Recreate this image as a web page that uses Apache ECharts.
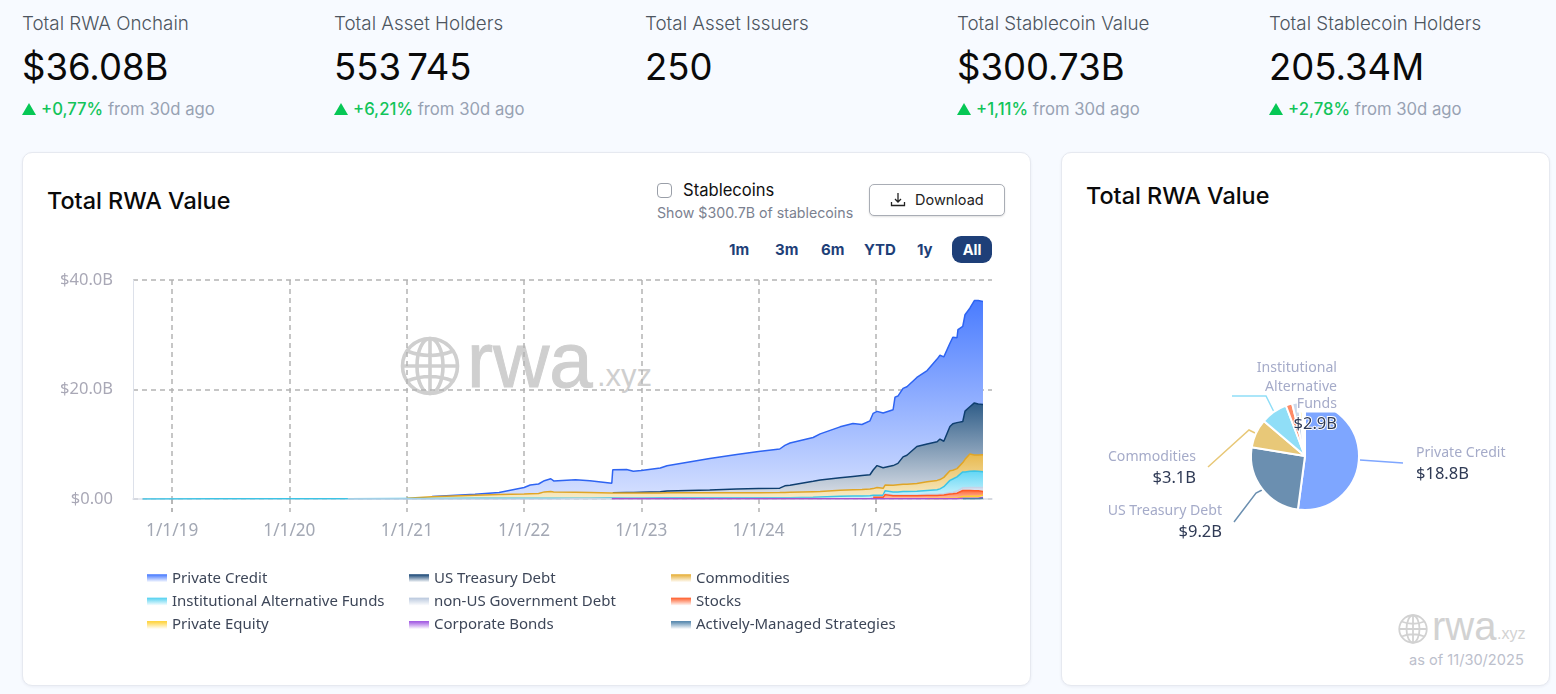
<!DOCTYPE html>
<html><head><meta charset="utf-8"><title>Total RWA Value</title>
<script src="https://cdn.jsdelivr.net/npm/echarts@6/dist/echarts.min.js"></script>
<style>
html,body{margin:0;padding:0;width:1556px;height:694px;overflow:hidden;background:#f7faff;font-family:Inter,sans-serif}
.a{position:absolute;white-space:nowrap}
.card{position:absolute;background:#fff;border:1px solid #e6e9f0;border-radius:10px;box-sizing:border-box;box-shadow:0 1px 3px rgba(30,40,80,.06)}
.k1{font-size:18.8px;color:#4d5560;top:13px;line-height:22px;font-weight:300}
.k2{font-size:36.5px;color:#0a0a0a;top:45px;line-height:44px;font-weight:400;word-spacing:-4px}
.k3{font-size:16.7px;top:98px;line-height:22px;color:#98a2b3}
.k3 b{color:#12c45a;font-weight:500}
.tri{display:inline-block;width:0;height:0;border-left:7px solid transparent;border-right:7px solid transparent;border-bottom:12px solid #06c755;margin-right:5px}
.r{font-size:15px;font-weight:700;color:#1e3f78;top:240px;line-height:20px}
#chart{position:absolute;left:0;top:0;width:1556px;height:694px}
</style></head><body>
<div class="a k1" style="left:22px">Total RWA Onchain</div><div class="a k2" style="left:22px">$36.08B</div>
<div class="a k3" style="left:22px"><span class="tri"></span><b>+0,77%</b> from 30d ago</div>
<div class="a k1" style="left:334px">Total Asset Holders</div><div class="a k2" style="left:334px">553 745</div>
<div class="a k3" style="left:334px"><span class="tri"></span><b>+6,21%</b> from 30d ago</div>
<div class="a k1" style="left:645px">Total Asset Issuers</div><div class="a k2" style="left:645px">250</div>
<div class="a k1" style="left:957px">Total Stablecoin Value</div><div class="a k2" style="left:957px">$300.73B</div>
<div class="a k3" style="left:957px"><span class="tri"></span><b>+1,11%</b> from 30d ago</div>
<div class="a k1" style="left:1269px">Total Stablecoin Holders</div><div class="a k2" style="left:1269px">205.34M</div>
<div class="a k3" style="left:1269px"><span class="tri"></span><b>+2,78%</b> from 30d ago</div>

<div class="card" style="left:22px;top:152px;width:1009px;height:534px"></div>
<div class="card" style="left:1061px;top:152px;width:489px;height:534px"></div>
<div class="a" style="left:47px;top:186px;font-size:23.4px;line-height:30px;font-weight:500;color:#0a0a0a">Total RWA Value</div>
<div class="a" style="left:1086px;top:181px;font-size:23.4px;line-height:30px;font-weight:500;color:#0a0a0a">Total RWA Value</div>

<div class="a" style="left:657px;top:183px;width:13px;height:13px;border:1px solid #9a9fa8;border-radius:4px"></div>
<div class="a" style="left:683px;top:180px;font-size:16.6px;line-height:20px;color:#111">Stablecoins</div>
<div class="a" style="left:657px;top:203px;font-size:14.2px;line-height:20px;color:#7b8190">Show $300.7B of stablecoins</div>
<div class="a" style="left:869px;top:184px;width:134px;height:30px;border:1px solid #a9adb5;border-radius:5px;background:#fff;box-shadow:0 1px 2px rgba(0,0,0,.12)"></div>
<svg class="a" style="left:890px;top:192px" width="16" height="16" viewBox="0 0 16 16" fill="none" stroke="#222" stroke-width="1.3"><path d="M8 1v9M5 7l3 3 3-3M1.5 10v3.5h13V10"/></svg>
<div class="a" style="left:915px;top:190px;font-size:14.5px;line-height:20px;color:#222">Download</div>
<div class="a r" style="left:729px">1m</div><div class="a r" style="left:775px">3m</div><div class="a r" style="left:821px">6m</div>
<div class="a r" style="left:864px">YTD</div><div class="a r" style="left:917px">1y</div>
<div class="a" style="left:952px;top:236px;width:40px;height:27px;border-radius:9px;background:#1e3f78;color:#fff;font-size:14.5px;font-weight:700;line-height:27px;text-align:center">All</div>

<svg class="a" style="left:400px;top:336px" width="60" height="60" viewBox="0 0 60 60" fill="none" stroke="#cfcfcf" stroke-width="3.6">
<circle cx="30" cy="30" r="27.5"/><ellipse cx="30" cy="30" rx="13" ry="27.5"/><path d="M30 2.5v55M2.5 30h55M7 15q23 9 46 0M7 45q23-9 46 0"/></svg>
<div class="a" style="left:467px;top:318px;font-family:'Liberation Sans';font-size:78px;line-height:84px;color:#cfcfcf;-webkit-text-stroke:1px #cfcfcf">rwa</div>
<div class="a" style="left:597px;top:358px;font-family:'Liberation Sans';font-size:31px;line-height:36px;color:#cfcfcf">.xyz</div>

<svg class="a" style="left:1398px;top:614px" width="30" height="30" viewBox="0 0 60 60" fill="none" stroke="#d2d2d2" stroke-width="3.6">
<circle cx="30" cy="30" r="27.5"/><ellipse cx="30" cy="30" rx="13" ry="27.5"/><path d="M30 2.5v55M2.5 30h55M7 15q23 9 46 0M7 45q23-9 46 0"/></svg>
<div class="a" style="left:1432px;top:604px;font-family:'Liberation Sans';font-size:40px;line-height:44px;color:#d2d2d2">rwa</div>
<div class="a" style="left:1497px;top:624px;font-family:'Liberation Sans';font-size:16px;line-height:20px;color:#d2d2d2">.xyz</div>
<div class="a" style="left:1409px;top:650px;font-size:14.6px;line-height:20px;color:#bcc0cc">as of 11/30/2025</div>

<div id="chart"></div>
<script>
const dates=["2018-10-01","2019-06-01","2020-01-01","2020-07-01","2021-01-01","2021-03-20","2021-08-01","2021-10-15","2022-01-01","2022-01-20","2022-02-15","2022-03-05","2022-03-25","2022-04-03","2022-06-10","2022-07-25","2022-10-01","2022-10-04","2022-11-16","2022-12-07","2023-01-01","2023-03-01","2023-03-22","2023-08-02","2023-10-25","2024-01-01","2024-03-07","2024-03-23","2024-04-08","2024-06-19","2024-07-11","2024-09-11","2024-10-21","2024-11-18","2024-12-13","2024-12-23","2025-01-04","2025-01-23","2025-01-29","2025-02-23","2025-03-01","2025-03-10","2025-03-26","2025-04-07","2025-05-08","2025-06-09","2025-07-10","2025-07-19","2025-07-31","2025-08-19","2025-08-28","2025-09-10","2025-09-13","2025-09-28","2025-10-05","2025-10-20","2025-11-03","2025-11-15","2025-11-30"];
const privateCredit=[null,null,null,null,null,.05,.15,.40,1.2,1.6,1.74,2.05,2.35,2.0,2.25,2.15,1.8,4.2,4.2,3.9,3.95,4.35,4.6,5.75,6.3,6.75,7.15,7.4,7.7,8.0,8.45,9.3,9.65,9.3,9.85,10.35,9.9,10.0,9.95,10.2,12.2,12.3,12.5,12.5,12.6,13.4,15.1,15.3,15.4,15.2,15.8,15.5,16.9,17.4,17.6,18.0,18.7,18.9,18.8];
const usTreasury=[null,null,null,null,null,null,null,null,null,null,null,null,null,null,null,null,null,.05,.1,.1,.15,.2,.35,.5,.65,.75,.8,1.2,1.3,1.9,2.1,2.3,2.45,2.55,2.6,3.4,4.0,3.75,3.25,3.6,3.9,3.9,5.0,5.3,6.75,6.9,7.05,7.4,6.6,8.1,8.5,8.4,8.5,7.5,8.8,8.65,9.5,9.3,9.2];
const commodities=[null,null,null,null,.05,.30,.58,.68,.78,.83,.88,1.18,1.23,1.18,1.1,1.05,.9,.9,.88,.88,.9,.9,.92,.95,.95,.95,.95,.95,.98,1.0,.97,1.1,1.15,1.2,1.25,1.2,1.4,1.25,1.05,1.2,1.2,1.3,1.35,1.35,1.45,1.6,1.7,1.7,1.7,1.75,1.6,1.5,1.5,1.7,2.3,3.15,2.95,3.0,3.1];
const institutionalFunds=[.02,.03,.04,.05,.08,.08,.10,.10,.10,.10,.10,.10,.10,.10,.12,.12,.12,.12,.12,.12,.12,.13,.13,.13,.13,.13,.15,.17,.17,.25,.3,.4,.45,.45,.5,.3,.3,.3,.55,.55,.55,.55,.6,.6,.65,.7,.85,.95,1.3,2.2,2.4,2.6,2.6,2.9,2.9,2.95,3.0,2.95,2.9];
const nonUsDebt=[null,null,null,.01,.02,.02,.02,.02,.02,.02,.02,.02,.02,.02,.03,.03,.03,.03,.05,.05,.05,.05,.05,.05,.05,.05,.05,.05,.05,.05,.05,.05,.05,.07,.05,.1,.1,.1,.15,.15,.15,.15,.15,.15,.15,.2,.2,.2,.2,.3,.3,.4,.4,.5,.5,.55,.6,.6,.7];
const stocks=[null,null,null,null,null,null,null,null,null,null,null,null,null,null,null,null,null,null,null,null,null,null,null,null,null,null,null,null,null,null,null,null,null,null,null,.25,.25,.25,.75,.55,.55,.55,.55,.55,.55,.55,.55,.6,.65,.75,.8,.9,.9,1.1,1.1,1.05,1.0,1.0,.7];
const privateEquity=[null,null,null,null,null,null,null,null,null,null,null,null,null,null,null,null,null,null,null,null,null,null,null,null,null,null,null,null,null,null,null,null,null,null,null,null,null,null,null,null,null,null,null,null,null,.05,.05,.05,.05,.1,.1,.1,.1,.3,.3,.35,.35,.35,.35];
const corporateBonds=[null,null,null,null,null,null,null,null,null,null,null,null,null,null,null,null,.03,.03,.03,.03,.03,.03,.03,.03,.03,.03,.03,.03,.03,.03,.03,.03,.03,.03,.03,.05,.05,.05,.05,.05,.05,.05,.05,.05,.05,.05,.05,.05,.05,.05,.05,.05,.05,.1,.1,.1,.1,.1,.2];
const activelyManaged=[null,null,null,null,null,null,null,null,null,null,null,null,null,null,null,null,null,null,null,null,null,null,null,null,null,null,null,null,null,null,null,null,null,null,null,null,null,null,null,null,null,null,null,null,null,null,null,null,null,null,null,null,null,.05,.05,.05,.05,.05,.13];
const tickDates=["2019-01-01","2020-01-01","2021-01-01","2022-01-01","2023-01-01","2024-01-01","2025-01-01"];
const pieNames=["Private Credit","US Treasury Debt","Commodities","Institutional Alternative Funds","Stocks","non-US Government Debt","Private Equity","Corporate Bonds","Actively-Managed Strategies"];
const pieValues=[18.8,9.2,3.1,2.9,.7,.7,.35,.2,.13];

const grad=(a,b)=>new echarts.graphic.LinearGradient(0,0,0,1,[{offset:0,color:a},{offset:1,color:b}]);
const styles={
 "Private Credit":{line:"#2e64f2",top:"#4a7cff",bot:"#d5e0ff",pie:"#7ea6ff",leg:"#3f74ff"},
 "US Treasury Debt":{line:"#0f3f70",top:"#2f5d88",bot:"#d5dbe4",pie:"#6b8fb0",leg:"#0f3f70"},
 "Commodities":{line:"#e0a526",top:"#e8b94e",bot:"#f8ecc8",pie:"#e8c878",leg:"#e5ab2e"},
 "Institutional Alternative Funds":{line:"#3cc4e6",top:"#62d6f5",bot:"#d8f6fd",pie:"#90def7",leg:"#4fd0f0"},
 "non-US Government Debt":{line:"#c5d3e8",top:"#d2dcec",bot:"#e8eef7",pie:"#ccd8ea",leg:"#b8c7dd"},
 "Stocks":{line:"#ff5a26",top:"#ff6a3a",bot:"#ffc2a8",pie:"#ff8a65",leg:"#ff5a26"},
 "Private Equity":{line:"#ffcf2e",top:"#ffd84a",bot:"#fff0b0",pie:"#ffe066",leg:"#ffd02e"},
 "Corporate Bonds":{line:"#a852cc",top:"#ab66e6",bot:"#e2c9f7",pie:"#b98be0",leg:"#9b4de0"},
 "Actively-Managed Strategies":{line:"#4a7fa8",top:"#5f8fb5",bot:"#cfdde8",pie:"#8fb0cc",leg:"#4a7fa8"}
};
const stackOrder=[["Actively-Managed Strategies",activelyManaged],["Corporate Bonds",corporateBonds],["Private Equity",privateEquity],["Stocks",stocks],["non-US Government Debt",nonUsDebt],["Institutional Alternative Funds",institutionalFunds],["Commodities",commodities],["US Treasury Debt",usTreasury],["Private Credit",privateCredit]];
const lineSeries=stackOrder.map(([name,vals],k)=>({
 name,type:"line",stack:"rwa",showSymbol:false,symbol:"none",animation:false,z:20-k,
 lineStyle:{width:1.5,color:styles[name].line},itemStyle:{color:styles[name].line},
 areaStyle:{color:grad(styles[name].top,styles[name].bot),opacity:1},
 data:dates.map((d,i)=>[d,vals[i]])
}));
const legendCol=(names,left)=>({left,top:565,orient:"vertical",itemWidth:20,itemHeight:8,itemGap:6.9,
 textStyle:{fontFamily:"'Noto Sans'",fontSize:15,color:"#3d4658",lineHeight:16.5},
 data:names.map(n=>({name:n,icon:"rect",itemStyle:{color:grad(styles[n].leg,"#ffffff"),borderWidth:0},lineStyle:{width:0,opacity:0}}))});
const labelPos={
 "Private Credit":{x:1416,y:444,align:"left",labelLinePoints:[[1360,460],[1403,463],[1403,463]]},
 "US Treasury Debt":{x:1222,y:502,align:"right",labelLinePoints:[[1262,490],[1256,493],[1234,522]]},
 "Commodities":{x:1196,y:448,align:"right",labelLinePoints:[[1255,433],[1249,430],[1208,467]]},
 "Institutional Alternative Funds":{x:1337,y:359,align:"right",labelLinePoints:[[1274,412],[1266,396],[1232,396]]}
};
const shown=Object.keys(labelPos);
const money=v=>"$"+v.toFixed(1)+"B";
const pieData=pieNames.map((name,i)=>{
 const isShown=shown.includes(name);
 return {name,value:pieValues[i],itemStyle:{color:styles[name].pie},
  label:{show:isShown},labelLine:{show:isShown,lineStyle:{color:styles[name].pie,width:1.5}}};
});
const chart=echarts.init(document.getElementById("chart"),null,{renderer:"canvas"});
const yearMs=365*864e5;
chart.setOption({
 backgroundColor:"transparent",animation:false,
 useUTC:true,
 legend:[legendCol(["Private Credit","Institutional Alternative Funds","Private Equity"],142),
         legendCol(["US Treasury Debt","non-US Government Debt","Corporate Bonds"],404),
         legendCol(["Commodities","Stocks","Actively-Managed Strategies"],666)],
 grid:{left:133,top:280,width:859,height:219,containLabel:false},
 xAxis:{type:"time",min:"2018-09-01",max:"2025-12-28",minInterval:yearMs,maxInterval:yearMs*1.01,
  axisLine:{show:true,lineStyle:{color:"#dde1ea",width:1.5}},
  axisTick:{show:true,length:13,customValues:tickDates.map(d=>+new Date(d)),lineStyle:{color:"#b4b4b4",type:[5,4],width:1.5}},
  splitLine:{show:true,showMinLine:false,showMaxLine:false,lineStyle:{color:"#b4b4b4",type:[5,4],width:1.5}},
  axisLabel:{margin:24,showMinLabel:false,showMaxLabel:false,hideOverlap:false,fontFamily:"'Noto Sans'",fontSize:17.2,color:"#a3a8b4",
   formatter:v=>{const d=new Date(v);return (d.getUTCMonth()===0&&d.getUTCDate()===1)?"1/1/"+String(d.getUTCFullYear()).slice(2):"";}}},
 yAxis:{type:"value",min:0,max:40,interval:20,
  axisLine:{show:true,lineStyle:{color:"#dde1ea",width:1}},axisTick:{show:false},
  splitLine:{show:true,lineStyle:{color:"#b4b4b4",type:[5,4],width:1.5}},
  axisLabel:{margin:20,fontFamily:"'Noto Sans'",fontSize:16.5,color:"#a9a8b6",formatter:v=>v===0?"$0.00":"$"+v.toFixed(1)+"B"}},
 series:[...lineSeries,{
  name:"Total RWA Value",type:"pie",animation:false,center:[1305,456],radius:[0,54],startAngle:90,clockwise:true,
  itemStyle:{borderColor:"#fff",borderWidth:2},
  label:{show:true,position:"outside",
   formatter:p=>{
    const v="{v|"+money(p.value)+"}";
    if(p.name==="Institutional Alternative Funds") return "{n|Institutional}\n{n|Alternative}\n{f|Funds}\n"+v;
    return "{n|"+p.name+"}\n"+v;
   },
   rich:{n:{fontFamily:"'Noto Sans'",fontSize:14.1,lineHeight:18.7,color:"#a5abc9"},
    f:{fontFamily:"'Noto Sans'",fontSize:14.1,lineHeight:16,height:16,color:"#a5abc9",backgroundColor:"#fff"},
    v:{fontFamily:"'Noto Sans'",fontSize:16.5,lineHeight:24,color:"#2f3a55",textBorderColor:"#fff",textBorderWidth:2}}},
  labelLine:{show:true},
  labelLayout:p=>{const l=labelPos[pieNames[p.dataIndex]];return l?{...l,verticalAlign:"top"}:{}},
  data:pieData}]
});
</script></body></html>
